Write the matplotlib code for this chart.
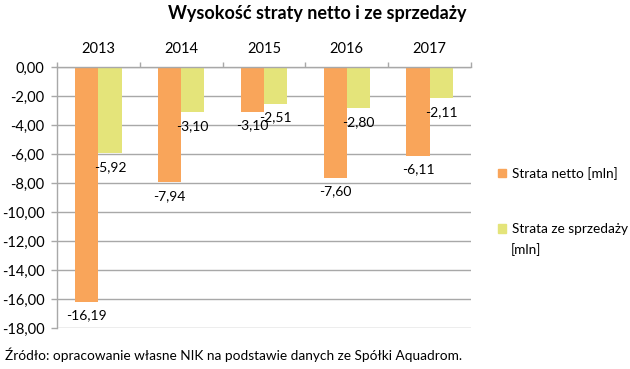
import matplotlib
matplotlib.use("Agg")
import matplotlib.pyplot as plt
import numpy as np
from matplotlib.patches import Patch

years = ["2013", "2014", "2015", "2016", "2017"]
strata_netto = [-16.19, -7.94, -3.10, -7.60, -6.11]
strata_sprzedaz = [-5.92, -3.10, -2.51, -2.80, -2.11]
yticks = [0, -2, -4, -6, -8, -10, -12, -14, -16, -18]

plt.rcParams['font.family'] = ['Lato', 'DejaVu Sans']

c_orange = "#F9A55A"
c_yellow = "#E4E47A"
c_grid = "#A8A8A8"

fig = plt.figure(figsize=(6.3, 3.69), dpi=100)
ax = fig.add_axes([57/630, 1-328.3/369, 414/630, (328.3-67.3)/369])

x = np.arange(len(years))
w = 0.28
b1 = ax.bar(x - w/2, strata_netto, width=w, color=c_orange, zorder=3)
b2 = ax.bar(x + w/2, strata_sprzedaz, width=w, color=c_yellow, zorder=3)

def fmt(v):
    return f"{v:.2f}".replace(".", ",")

for xi, v in zip(x - w/2, strata_netto):
    ax.annotate(fmt(v), (xi, v), xytext=(0, -9.6), textcoords="offset points",
                ha="center", va="center", fontsize=10, color="#000000", zorder=4)
for xi, v in zip(x + w/2, strata_sprzedaz):
    ax.annotate(fmt(v), (xi, v), xytext=(0, -10), textcoords="offset points",
                ha="center", va="center", fontsize=10, color="#000000", zorder=4)

ax.set_xlim(-0.5, len(years) - 0.5)
ax.set_ylim(-18, 0)
ax.set_yticks(yticks)
ax.set_yticklabels([fmt(v) if v != 0 else "0,00" for v in yticks], fontsize=10.5)
ax.yaxis.grid(True, color=c_grid, linewidth=1, zorder=0)
ax.tick_params(axis="y", length=4, color=c_grid, width=1, pad=5)

ax.xaxis.tick_top()
ax.set_xticks(np.arange(-0.5, len(years)), minor=False)
ax.set_xticklabels([])
ax.set_xticks(x, minor=True)
ax.set_xticklabels(years, minor=True, fontsize=10.5)
ax.tick_params(axis="x", which="major", length=3.5, color=c_grid, width=1, top=True, bottom=False)
ax.tick_params(axis="x", which="minor", length=0, pad=8, top=True, bottom=False)

for s in ["right", "bottom"]:
    ax.spines[s].set_visible(False)
for s in ["left", "top"]:
    ax.spines[s].set_color(c_grid)
    ax.spines[s].set_linewidth(1)
ax.spines["top"].set_zorder(5)

handles = [Patch(color=c_orange), Patch(color=c_yellow)]
leg = ax.legend(handles, ["Strata netto [mln]", "Strata ze sprzedaży"],
                loc="upper left", bbox_to_anchor=(498/630, 1-167/369),
                bbox_transform=fig.transFigure, frameon=False, fontsize=9.8,
                handlelength=0.6, handleheight=0.6, handletextpad=0.45,
                labelspacing=3.2, borderpad=0, borderaxespad=0)
fig.text(511/630, 1-250/369, "[mln]", fontsize=9.8, ha="left", va="center")

fig.text(0.503, 1-14/369, "Wysokość straty netto i ze sprzedaży", fontsize=13,
         fontweight="bold", ha="center", va="center")
fig.text(5/630, 1-355/369, "Źródło: opracowanie własne NIK na podstawie danych ze Spółki Aquadrom.",
         fontsize=9.8, ha="left", va="center")

fig.savefig("out.png", dpi=100)
